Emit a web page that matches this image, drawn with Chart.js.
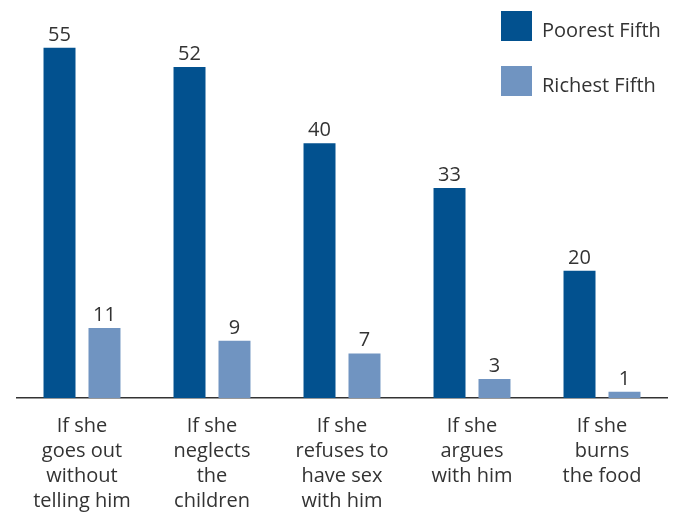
<!DOCTYPE html>
<html>
<head>
<meta charset="utf-8">
<script src="https://cdn.jsdelivr.net/npm/chart.js@4.4.1/dist/chart.umd.min.js"></script>
<style>
  html, body { margin: 0; padding: 0; background: #fff; overflow: hidden; }
  #wrap { width: 677px; height: 512px; }
</style>
</head>
<body>
<div id="wrap"><canvas id="beatChart" width="677" height="512"></canvas></div>
<script>
// 카테고리와 데이터
const categories = [
    ['If she', 'goes out', 'without', 'telling him'],
    ['If she', 'neglects', 'the', 'children'],
    ['If she', 'refuses to', 'have sex', 'with him'],
    ['If she', 'argues', 'with him'],
    ['If she', 'burns', 'the food']
];
const poorest = [55, 52, 40, 33, 20];
const richest = [11, 9, 7, 3, 1];
const seriesNames = ['Poorest Fifth', 'Richest Fifth'];

const FONT = '"Open Sans", Lato, sans-serif';

// 막대 위 숫자
const valueLabels = {
    id: 'valueLabels',
    afterDatasetsDraw(chart) {
        const c = chart.ctx;
        c.save();
        c.font = '20px ' + FONT;
        c.fillStyle = '#333';
        c.textAlign = 'center';
        c.textBaseline = 'alphabetic';
        chart.data.datasets.forEach((ds, i) => {
            chart.getDatasetMeta(i).data.forEach((bar, j) => {
                c.fillText(ds.data[j], bar.x, bar.y - 7);
            });
        });
        c.restore();
    }
};

// 오른쪽 위 범례
const sideLegend = {
    id: 'sideLegend',
    afterDraw(chart) {
        const c = chart.ctx;
        c.save();
        c.font = '20px ' + FONT;
        c.textBaseline = 'middle';
        chart.data.datasets.forEach((ds, i) => {
            const y = 11 + i * 55;
            c.fillStyle = ds.backgroundColor;
            c.fillRect(501, y, 31, 30);
            c.fillStyle = '#333';
            c.fillText(ds.label, 542, y + 20);
        });
        c.restore();
    }
};

const ctx = document.getElementById('beatChart').getContext('2d');
const beatChart = new Chart(ctx, {
    type: 'bar',
    data: {
        labels: categories,
        datasets: [
            { label: seriesNames[0], data: poorest, backgroundColor: '#02518f' },
            { label: seriesNames[1], data: richest, backgroundColor: '#7094c1' }
        ]
    },
    options: {
        responsive: false,
        animation: false,
        layout: { padding: { left: 17, right: 10, top: 16, bottom: 0 } },
        datasets: {
            bar: { categoryPercentage: 0.692, barPercentage: 0.711 }
        },
        plugins: {
            legend: { display: false },
            tooltip: { enabled: false }
        },
        scales: {
            x: {
                grid: { display: false, drawTicks: false },
                border: { display: true, color: '#333', width: 1.5 },
                ticks: {
                    color: '#333',
                    font: { family: FONT, size: 20, lineHeight: 1.25 },
                    padding: 16,
                    maxRotation: 0,
                    autoSkip: false
                },
                afterFit(scale) { scale.height = 114; }
            },
            y: {
                display: false,
                min: 0,
                max: 60
            }
        }
    },
    plugins: [valueLabels, sideLegend]
});
</script>
</body>
</html>
